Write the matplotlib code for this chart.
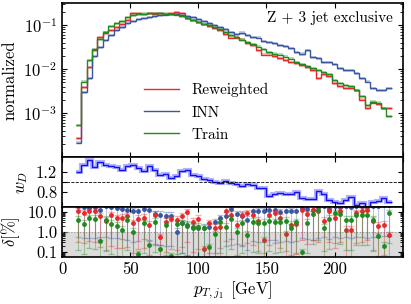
import numpy as np
import matplotlib
matplotlib.use("Agg")
import matplotlib.pyplot as plt
from matplotlib.ticker import FixedLocator, FixedFormatter, NullFormatter, LogFormatterMathtext

plt.rcParams['font.family'] = 'serif'
plt.rcParams['font.serif'] = ['cmr10']
plt.rcParams['mathtext.fontset'] = 'cm'
plt.rcParams['axes.formatter.use_mathtext'] = True

# bin edges in GeV
edges = np.arange(10, 243, 4)

# normalized distributions
train = [5.3e-4, 5.1e-3, 0.016, 0.028, 0.048, 0.069, 0.095, 0.111, 0.123, 0.152,
         0.169, 0.178, 0.182, 0.187, 0.187, 0.187, 0.182, 0.178, 0.173, 0.160,
         0.144, 0.130, 0.117, 0.105, 0.100, 0.090, 0.081, 0.069, 0.059, 0.053,
         0.046, 0.041, 0.037, 0.032, 0.028, 0.024, 0.022, 0.021, 0.019, 0.017,
         0.0144, 0.0130, 0.0117, 0.0105, 0.0095, 0.0085, 0.0077, 0.0056, 0.0048, 0.0043,
         0.0041, 0.0033, 0.0024, 0.0015, 0.0018, 0.0017, 0.0013, 0.00085]
reweighted = [2.7e-4, 3.9e-3, 0.011, 0.027, 0.053, 0.066, 0.077, 0.090, 0.105, 0.130,
              0.187, 0.187, 0.178, 0.187, 0.182, 0.187, 0.178, 0.187, 0.197, 0.187,
              0.144, 0.130, 0.117, 0.105, 0.095, 0.0855, 0.077, 0.062, 0.051, 0.051,
              0.046, 0.039, 0.035, 0.027, 0.021, 0.021, 0.0197, 0.0178, 0.016, 0.0144,
              0.0137, 0.0123, 0.0111, 0.0095, 0.0062, 0.0077, 0.0069, 0.0048, 0.0041, 0.0037,
              0.0037, 0.0033, 0.0020, 0.0013, 0.0017, 0.0016, 0.0013, 0.0013]
inn = [2.1e-4, 3.0e-3, 6.2e-3, 0.0197, 0.0316, 0.0456, 0.059, 0.077, 0.090, 0.111,
       0.123, 0.137, 0.144, 0.152, 0.160, 0.169, 0.173, 0.178, 0.178, 0.173,
       0.160, 0.152, 0.137, 0.123, 0.111, 0.100, 0.090, 0.081, 0.069, 0.062,
       0.066, 0.059, 0.053, 0.051, 0.043, 0.041, 0.039, 0.035, 0.033, 0.030,
       0.024, 0.022, 0.027, 0.0187, 0.0178, 0.0144, 0.0144, 0.013, 0.0105, 0.0095,
       0.0095, 0.0081, 0.0062, 0.0051, 0.0037, 0.0033, 0.0033, 0.0037]

# ratio panel (w_D)
ratio = [1.19, 1.34, 1.44, 1.29, 1.39, 1.34, 1.32, 1.29, 1.24, 1.31,
         1.34, 1.27, 1.21, 1.31, 1.23, 1.14, 1.16, 1.09, 1.12, 1.21,
         1.23, 1.14, 1.12, 1.07, 1.05, 1.01, 0.99, 1.03, 0.99, 0.97,
         0.92, 0.97, 0.94, 0.89, 0.89, 0.72, 0.77, 0.79, 0.76, 0.76,
         0.81, 0.69, 0.67, 0.67, 0.83, 0.77, 0.65, 0.61, 0.59, 0.65,
         0.71, 0.54, 0.59, 0.48, 0.61, 0.63, 0.69, 0.61]

# relative deviations in %
delta_rew = [10.8, 8.9, 11.7, 10.8, 6.0, 3.6, 6.8, 4.9, 5.3, 6.0, 2.75, 4.6, 5.3, 2.27, 7.3,
             0.54, 3.3, 4.6, 4.1, 6.0, 10.0, 3.3, 4.6, 0.13, 2.75, 1.65, 1.86, 11.7, 7.3, 2.27,
             7.3, 8.9, 7.3, 3.6, 0.39, 7.3, 8.9, 5.3, 0.76, 2.27, 2.45, 13.1, 7.9, 13.1, 10.8,
             3.6, 10.8, 4.9, 10.8, 1.26, 1.26, 8.9, 10.8, 13.1, 3.6, 2.0, 2.27, 0.66]
delta_inn = [19.3, 17.2, 15.9, 17.2, 13.1, 19.3, 17.2, 15.9, 14.7, 13.1, 10.8, 11.7, 14.7, 13.1, 7.9,
             7.3, 6.7, 6.5, 1.04, 2.75, 2.27, 1.86, 1.53, 1.65, 1.86, 3.0, 4.9, 6.7, 14.7, 7.9,
             6.7, 4.1, 11.7, 10.8, 10.8, 13.1, 13.1, 10.0, 11.7, 10.8, 11.7, 15.9, 14.7, 13.1, 17.2,
             19.3, 14.7, 19.3, 17.2, 19.3, 17.2, 19.3, 19.3, 17.2, 19.3, 19.3, 21.7, 21.7]
delta_train = [4.1, 2.55, 4.9, 4.6, 0.36, 4.1, 2.55, 2.1, 1.3, 4.1, 1.04, 0.075, 2.75, 0.22, 3.3,
               0.14, 2.27, 0.06, 2.45, 2.75, 2.1, 1.65, 1.86, 1.53, 0.17, 0.76, 3.0, 1.86, 4.4, 1.04,
               2.75, 0.70, 3.3, 2.75, 2.9, 3.6, 3.0, 3.3, 3.6, 1.65, 3.0, 0.095, 2.9, 7.9, 13.1,
               1.65, 4.6, 8.9, 7.9, 4.1, 4.1, 7.3, 7.3, 7.3, 4.1, 0.62, 0.2, 8.9]

c_red = '#e8292a'
c_blue = '#3a56a0'
c_green = '#1f8a1f'

fig = plt.figure(figsize=(4.11, 3.04), dpi=100)
L, W = 0.151, 0.829
ax1 = fig.add_axes([L, 0.4836, W, 0.5064])
ax2 = fig.add_axes([L, 0.319, W, 0.1646], sharex=ax1)
ax3 = fig.add_axes([L, 0.1546, W, 0.1644], sharex=ax1)

centers = 0.5 * (edges[1:] + edges[:-1])

for vals, col, lab in [(reweighted, c_red, 'Reweighted'), (inn, c_blue, 'INN'), (train, c_green, 'Train')]:
    v = np.array(vals)
    ax1.stairs(v * 1.08, edges, baseline=v * 0.92, fill=True, color=col, alpha=0.3, lw=0)
    ax1.stairs(v, edges, baseline=None, color=col, lw=1.0, label=lab)

ax1.set_yscale('log')
ax1.set_ylim(1e-4, 10**-0.5)
ax1.set_xlim(0, 250)
ax1.yaxis.set_major_locator(FixedLocator([1e-3, 1e-2, 1e-1]))
ax1.yaxis.set_major_formatter(LogFormatterMathtext())
ax1.set_ylabel('normalized', fontsize=12)
ax1.text(0.97, 0.9, 'Z + 3 jet exclusive', transform=ax1.transAxes, ha='right', va='center', fontsize=11)
leg = ax1.legend(loc='lower left', bbox_to_anchor=(0.2, 0.01), frameon=False, fontsize=11,
                 handlelength=2.3, labelspacing=0.55)
ax1.tick_params(labelbottom=False)

r = np.array(ratio)
ax2.stairs(r, edges, baseline=None, color='#0000ff', alpha=0.3, lw=3)
ax2.stairs(r, edges, baseline=None, color='#1010ee', lw=1.0)
ax2.axhline(1.0, color='black', ls='--', lw=0.6)
ax2.set_ylim(0.5, 1.5)
ax2.set_yticks([0.8, 1.0, 1.2])
ax2.set_yticklabels(['0.8', '', '1.2'])
ax2.set_ylabel('$w_D$', fontsize=12)
ax2.tick_params(labelbottom=False)

ax3.axhspan(1e-3, 1.0, color='#dcdcdc', lw=0)
ax3.axhline(1.0, color='#999999', ls=':', lw=0.8)
for vals, col in [(delta_inn, c_blue), (delta_rew, c_red), (delta_train, c_green)]:
    v = np.array(vals)
    ax3.errorbar(centers, v, yerr=[v * 0.97, v * 0.5], fmt='none', ecolor=col, alpha=0.35,
                 elinewidth=0.8, capsize=2)
    ax3.plot(centers, v, 'o', color=col, ms=3.5, mec='none')
ax3.set_yscale('log')
ax3.set_ylim(0.054, 18)
ax3.yaxis.set_major_locator(FixedLocator([0.1, 1.0, 10.0]))
ax3.yaxis.set_major_formatter(FixedFormatter(['0.1', '1.0', '10.0']))
ax3.yaxis.set_minor_formatter(NullFormatter())
ax3.set_ylabel(r'$\delta$[%]', fontsize=12)
ax3.set_xticks([0, 50, 100, 150, 200, 250])
ax3.set_xticklabels(['0', '50', '100', '150', '200', ''])
ax3.set_xlabel(r'$p_{T,j_1}$ [GeV]', fontsize=12, labelpad=2)

for ax in (ax1, ax2, ax3):
    ax.tick_params(direction='in', which='both', labelsize=12, top=True, right=True)
    for s in ax.spines.values():
        s.set_linewidth(1.2)

fig.align_ylabels([ax1, ax2, ax3])
fig.savefig('out.png', dpi=100)
